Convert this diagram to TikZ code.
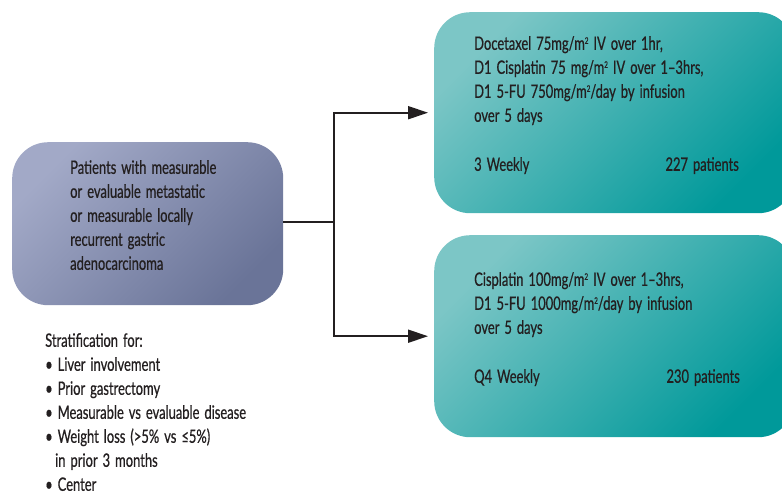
\documentclass[tikz,border=0pt]{standalone}
\usepackage{fontspec}
\setmainfont[FakeStretch=0.7,FakeBold=0.6,WordSpace=1.5]{Lato}
\usetikzlibrary{arrows.meta}
\definecolor{txt}{HTML}{231F20}
\definecolor{slateA}{HTML}{A2A9C7}
\definecolor{slateB}{HTML}{6A7498}
\definecolor{tealA}{HTML}{7CC6C6}
\definecolor{tealB}{HTML}{00999A}
\newcommand{\sqm}{\raisebox{6pt}{\fontsize{9}{9}\selectfont 2}}
\tikzset{
  pbox/.style={rounded corners=36pt, draw=none, top color=slateA, bottom color=slateB, shading angle=45, anchor=north west, inner sep=0pt},
  tbox/.style={rounded corners=36pt, draw=none, top color=tealA, bottom color=tealB, shading angle=45, anchor=north west, inner sep=0pt},
  lbl/.style={text=txt, font=\fontsize{18.5}{24}\selectfont, align=left, inner sep=0pt, anchor=north west},
  lblr/.style={text=txt, font=\fontsize{18.5}{24}\selectfont, inner sep=0pt, anchor=north east},
  conn/.style={draw=txt, line width=2pt},
  arr/.style={conn, -{Triangle[length=20pt,width=13pt]}, shorten >=6pt}
}
\begin{document}
\begin{tikzpicture}[x=1pt,y=-1pt]
\useasboundingbox (0,0) rectangle (782,493);
\clip (0,0) rectangle (782,493);
\node[pbox, minimum width=271pt, minimum height=163pt] (pat) at (12,142) {};
\node[tbox, minimum width=360pt, minimum height=201pt] (top) at (434,12) {};
\node[tbox, minimum width=360pt, minimum height=202pt] (bot) at (434,235) {};
\node[lbl] (pattxt) at (70,160) {Patients with measurable\\or evaluable metastatic\\or measurable locally\\recurrent gastric\\adenocarcinoma};
\node[lbl] (toptxt) at (474,36) {Docetaxel 75mg/m\sqm{} IV over 1hr,\\D1 Cisplatin 75 mg/m\sqm{} IV over 1--3hrs,\\D1 5-FU 750mg/m\sqm/day by infusion\\over 5 days};
\node[lbl] (topw) at (474,157) {3 Weekly};
\node[lblr] (topp) at (739,157) {227 patients};
\node[lbl] (bottxt) at (474,272) {Cisplatin 100mg/m\sqm{} IV over 1--3hrs,\\D1 5-FU 1000mg/m\sqm/day by infusion\\over 5 days};
\node[lbl] (botw) at (474,369) {Q4 Weekly};
\node[lblr] (botp) at (740,369) {230 patients};
\node[lbl] (strat) at (45,333) {Stratification for:\\\textbullet{} Liver involvement\\\textbullet{} Prior gastrectomy\\\textbullet{} Measurable vs evaluable disease\\\textbullet{} Weight loss (>5\% vs ≤5\%)\\\hspace{10pt}in prior 3 months\\\textbullet{} Center};
\coordinate (j) at (334,222);
\draw[conn] (pat.east |- j) -- (j);
\draw[arr] (j) |- (top.west);
\draw[arr] (j) |- (bot.west);
\end{tikzpicture}
\end{document}
